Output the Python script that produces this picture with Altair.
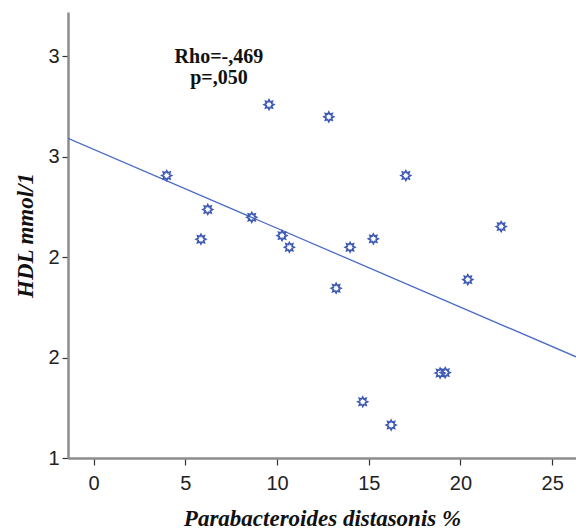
import altair as alt
import pandas as pd
import math

# Data
x_vals = [3.98, 5.85, 6.22, 8.62, 9.56, 10.27, 10.67, 12.82, 13.22, 13.98,
          14.67, 15.25, 16.22, 17.02, 18.89, 19.17, 20.40, 22.22]
y_vals = [2.406, 2.089, 2.237, 2.198, 2.759, 2.107, 2.049, 2.698, 1.845, 2.049,
          1.280, 2.091, 1.164, 2.406, 1.423, 1.425, 1.888, 2.152]
x_ticks = [0, 5, 10, 15, 20, 25]
y_ticks = [1, 1.5, 2, 2.5, 3]
annot_lines = ["Rho=-,469", "p=,050"]
annot_x = [6.83, 6.83]
annot_y = [2.965, 2.862]

x_domain = [-1.4, 26.3]
y_domain = [1.0, 3.22]

df = pd.DataFrame({"x": x_vals, "y": y_vals})
ann = pd.DataFrame({"x": annot_x, "y": annot_y, "t": annot_lines})

# 8-point star outline for marker
pts = []
for k in range(16):
    r = 1.0 if k % 2 == 0 else 0.6
    a = math.pi * k / 8
    pts.append(f"{r*math.cos(a):.3f},{r*math.sin(a):.3f}")
star = "M" + " L".join(pts) + " Z"

xs = alt.Scale(domain=x_domain, nice=False, zero=False)
ys = alt.Scale(domain=y_domain, nice=False, zero=False)

x_axis = alt.Axis(values=x_ticks, title="Parabacteroides distasonis %",
                  tickSize=7, labelPadding=8, titleY=67, titleBaseline="alphabetic")
y_axis = alt.Axis(values=y_ticks, title="HDL mmol/1",
                  labelExpr="format(round(datum.value), 'd')",
                  tickSize=6, labelPadding=3, titleX=-36, titleBaseline="alphabetic")

points = alt.Chart(df).mark_point(
    shape=star, filled=False, strokeWidth=1.6, size=95, color="#3d59b5", opacity=1
).encode(
    x=alt.X("x:Q", scale=xs, axis=x_axis),
    y=alt.Y("y:Q", scale=ys, axis=y_axis),
)

line = alt.Chart(df).transform_regression(
    "x", "y", extent=x_domain
).mark_line(color="#4a6bc6", strokeWidth=1.3, clip=True).encode(
    x=alt.X("x:Q", scale=xs),
    y=alt.Y("y:Q", scale=ys),
)

text = alt.Chart(ann).mark_text(
    font="Liberation Serif", fontWeight="bold", fontSize=20,
    align="center", baseline="alphabetic", color="#111"
).encode(
    x=alt.X("x:Q", scale=xs),
    y=alt.Y("y:Q", scale=ys),
    text="t:N",
)

chart = alt.layer(line, points, text).properties(
    width=508, height=446,
    autosize=alt.AutoSizeParams(type="none"),
    padding={"left": 68, "top": 12, "right": 0, "bottom": 74},
    background="white",
).configure_view(stroke=None).configure_axis(
    grid=False,
    domainColor="#8c8c8c", domainWidth=2.5,
    tickColor="#333333", tickWidth=1.2,
    labelFont="Liberation Sans", labelFontSize=20, labelColor="#222222",
    titleFont="Liberation Serif", titleFontSize=23, titleFontStyle="italic",
    titleFontWeight="bold", titleColor="#111111",
)

chart.save("out.html", embed_options={"renderer": "svg", "actions": False})
